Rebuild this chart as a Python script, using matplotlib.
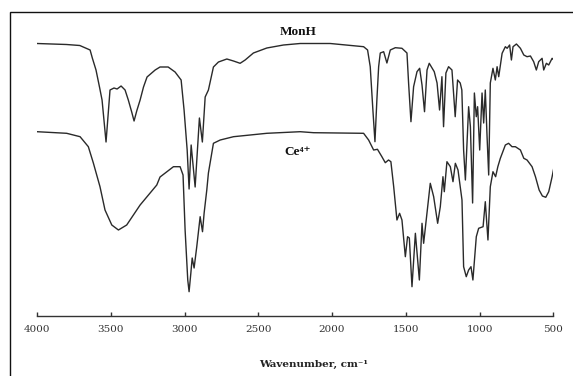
import matplotlib
matplotlib.use("Agg")
import matplotlib.pyplot as plt
from matplotlib.patches import Rectangle

# Wavenumbers (cm-1) and transmittance (arbitrary units, offset traces)
monh_wn = [4000, 3800, 3710, 3640, 3625, 3600, 3575, 3559, 3532, 3505, 3478, 3457, 3430, 3403,
           3381, 3358, 3342, 3324, 3301, 3278, 3254, 3199, 3166, 3111, 3064, 3023, 3003, 2982,
           2969, 2955, 2928, 2899, 2879,
           2860, 2838, 2804, 2770, 2713, 2668, 2623, 2589, 2533, 2442, 2329, 2216, 2012, 1786,
           1759, 1741, 1723, 1709, 1696, 1684, 1673, 1650, 1628, 1605, 1571, 1526, 1492, 1481,
           1465, 1447, 1424, 1406, 1390, 1373, 1356, 1341, 1307, 1288, 1271, 1255, 1244, 1228,
           1210, 1187, 1165, 1149, 1131, 1120, 1108, 1096, 1074, 1062, 1047, 1035, 1022, 1013,
           999, 983, 972, 961, 949, 938, 927, 909, 893, 881, 870, 847, 825, 813, 796, 784, 773,
           750, 723, 700, 678, 655, 633, 615, 599, 576, 565, 547, 531, 508, 497]
monh_t = [272.5, 271.5, 270.5, 266, 258, 246, 228, 216, 174, 226, 228, 227, 230, 226,
          216, 204, 195, 205, 216, 229, 239, 246, 249, 249, 244, 236, 206, 166,
          127, 171, 129, 198, 174,
          219, 226, 249, 254, 257, 255, 252.7, 256, 263, 268, 271, 272.5, 272.5, 269.3,
          266, 249.3, 206, 174.3, 216, 249.3, 263, 264.3, 253, 266, 268.3, 267.7, 263, 233,
          194.3, 229.3, 244.3, 247.7, 231, 204.3, 246, 252.7, 244.3, 233, 206, 239.3, 189.3, 243,
          249.3, 246, 199.3, 236, 233, 226, 166, 136, 209.3, 189.3, 113, 223, 199.3, 209.3,
          166, 223, 193, 226, 179.3, 141, 233, 247.7, 236, 249.3, 239.3, 262.7, 269.3, 267.7, 271, 256, 269.3,
          272, 267.7, 261, 259.3, 260, 254.3, 246, 254.3, 257.7, 246, 252.7, 251, 257.7, 256]

ce_wn = [4000, 3799, 3708, 3652, 3618, 3573, 3539, 3493, 3448, 3392, 3301, 3188, 3166, 3075,
         3030, 3010, 2996, 2978, 2969, 2957, 2948, 2935, 2917, 2894, 2878, 2867, 2849, 2838,
         2804, 2758, 2668, 2555, 2442, 2216, 2125, 1786, 1752, 1718, 1692, 1662, 1639, 1617,
         1601, 1582, 1560, 1542, 1526, 1503, 1488, 1476, 1458, 1435, 1408, 1390, 1379, 1334,
         1311, 1284, 1266, 1248, 1239, 1221, 1198, 1180, 1164, 1146, 1119, 1108, 1090, 1074,
         1058, 1045, 1022, 1006, 976, 961, 943, 927, 909, 891, 876, 859, 825, 803, 780, 757,
         723, 700, 678, 644, 621, 596, 574, 551, 531, 508, 497]
ce_t = [184.3, 182.7, 179.3, 169.3, 153, 129.3, 106, 91, 86, 91, 111, 131, 139, 149.3,
        149.3, 141, 86, 36, 24.3, 43, 58, 48, 69.3, 99.3, 84.3, 103, 126, 143,
        172.7, 176, 179.3, 181, 182.7, 184.3, 183.3, 182.7, 176, 166, 166.7, 159.3, 153.3, 156,
        154.3, 129.3, 96, 102.7, 96, 59.3, 79.3, 78, 29.3, 82.7, 36, 92.7, 72.7, 132.7,
        119.3, 92.7, 109.3, 139.3, 124.3, 154.3, 149.3, 134.3, 152.7, 146, 116, 49.3, 39.3, 46,
        49.3, 36, 79.3, 87.7, 89.3, 114.3, 76, 129.3, 144.3, 139.3, 149.3, 157.7, 171, 172.7, 169.3, 169.3,
        166, 157.7, 156, 149.3, 139.3, 126, 120, 118.7, 124.3, 139.3, 147.7]

x_ticks = [4000, 3500, 3000, 2500, 2000, 1500, 1000, 500]
x_label = "Wavenumber, cm\u207b\u00b9"
series_labels = ["MonH", "Ce\u2074\u207a"]

W, H = 573, 376
fig = plt.figure(figsize=(W / 100, H / 100), dpi=100)
fig.patch.set_facecolor("white")

ax = fig.add_axes([37 / W, 1 - 315.5 / H, (553.3 - 37) / W, 315.5 / H])
line_color = "#2a2a2a"
ax.plot(monh_wn, monh_t, color=line_color, lw=1.0)
ax.plot(ce_wn, ce_t, color=line_color, lw=1.0)

ax.set_xlim(4000, 500)
ax.set_ylim(0.5, 316)
ax.set_xticks(x_ticks)
ax.set_xticklabels([str(t) for t in x_ticks], family="DejaVu Serif", fontsize=7.5, color="#333333")
ax.set_yticks([])
for s in ["top", "right", "left"]:
    ax.spines[s].set_visible(False)
ax.spines["bottom"].set_color("#333333")
ax.spines["bottom"].set_linewidth(1.0)
ax.tick_params(axis="x", direction="in", length=3, width=1.0, color="#333333", pad=7)
ax.patch.set_alpha(0)

# figure frame
fig.patches.append(Rectangle((10 / W, -0.1), 1.2, 1 - 12 / H + 0.1, transform=fig.transFigure,
                             fill=False, edgecolor="#111111", lw=1.0))

lab_font = ["Liberation Serif", "DejaVu Serif"]
fig.text(298 / W, 1 - 31.7 / H, series_labels[0], family=lab_font, fontweight="bold",
         fontsize=9.5, ha="center", va="center", color="#111111")
fig.text(298 / W, 1 - 151.7 / H, series_labels[1], family=lab_font, fontweight="bold",
         fontsize=9.5, ha="center", va="center", color="#111111")
fig.text(314 / W, 1 - 364 / H, x_label, family="DejaVu Serif", fontweight="bold",
         fontsize=7.5, ha="center", va="center", color="#222222")

fig.savefig("out.png", dpi=100, facecolor="white")
